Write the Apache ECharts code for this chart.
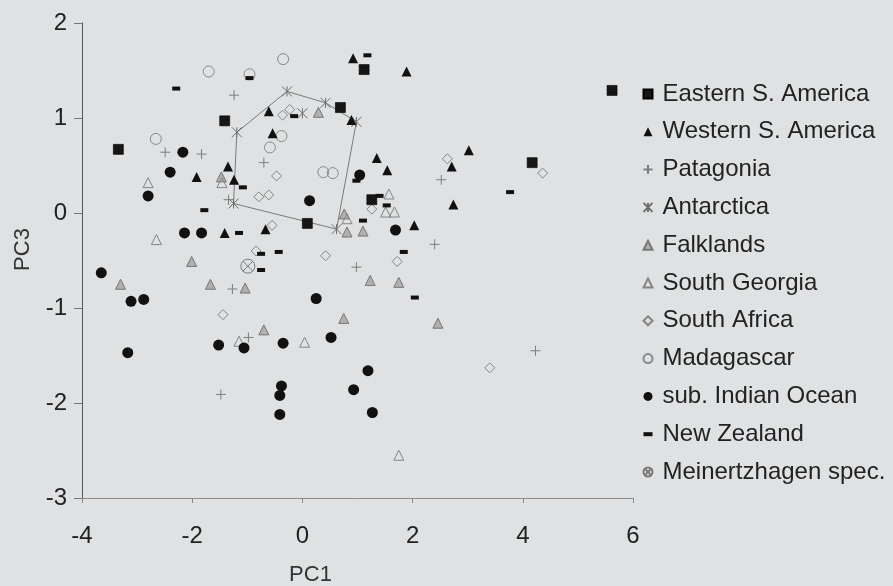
<!DOCTYPE html>
<html>
<head>
<meta charset="utf-8">
<script src="https://cdn.jsdelivr.net/npm/echarts@6/dist/echarts.min.js"></script>
<style>
  html, body { margin: 0; padding: 0; background: #dfe1e2; }
  #chart { width: 893px; height: 586px; }
</style>
</head>
<body>
<div id="chart"></div>
<script>
// PCA scores (PC1, PC3) by region of origin
const easternSAmerica = [[-1.41, 0.97], [-3.34, 0.67], [1.12, 1.51], [0.69, 1.11], [1.26, 0.14], [0.09, -0.11], [4.17, 0.53], [5.62, 1.29]];
const westernSAmerica = [[0.92, 1.63], [1.89, 1.49], [-0.61, 1.07], [0.89, 0.98], [-0.54, 0.84], [-1.35, 0.49], [-1.92, 0.38], [-1.24, 0.35], [1.35, 0.58], [1.54, 0.45], [3.02, 0.66], [2.71, 0.49], [2.74, 0.09], [2.03, -0.13], [-1.41, -0.21], [-0.67, -0.17]];
const patagonia = [[-1.24, 1.24], [-2.49, 0.64], [-1.83, 0.62], [-0.70, 0.53], [-1.34, 0.14], [2.52, 0.35], [2.40, -0.33], [0.98, -0.57], [-1.27, -0.80], [-0.98, -1.31], [4.23, -1.45], [-1.48, -1.91]];
const antarctica = [[-0.28, 1.28], [0.42, 1.16], [0.98, 0.96], [0.62, -0.17], [-1.25, 0.10], [-1.19, 0.85], [0.00, 1.05]];
const falklands = [[0.29, 1.06], [-1.47, 0.38], [0.76, -0.01], [0.81, -0.20], [1.10, -0.19], [-2.01, -0.51], [-3.30, -0.75], [-1.67, -0.75], [-1.04, -0.79], [1.23, -0.71], [1.75, -0.73], [0.75, -1.11], [2.46, -1.16], [-0.70, -1.23]];
const southGeorgia = [[-2.80, 0.32], [-1.46, 0.32], [1.57, 0.20], [1.51, 0.01], [1.67, 0.01], [0.81, -0.06], [-2.65, -0.28], [-1.15, -1.35], [0.04, -1.36], [1.75, -2.55]];
const southAfrica = [[-0.23, 1.09], [-0.36, 1.03], [-0.47, 0.39], [-0.79, 0.17], [-0.61, 0.19], [-0.55, -0.13], [-0.84, -0.40], [1.26, 0.04], [2.63, 0.57], [4.36, 0.42], [0.42, -0.45], [1.72, -0.51], [-1.44, -1.07], [3.40, -1.63]];
const madagascar = [[-0.35, 1.62], [-1.70, 1.49], [-0.96, 1.46], [-0.38, 0.81], [-0.59, 0.69], [-2.66, 0.78], [0.38, 0.43], [0.55, 0.42]];
const subIndianOcean = [[-2.17, 0.64], [-2.40, 0.43], [-2.80, 0.18], [1.04, 0.40], [0.13, 0.13], [1.69, -0.18], [-2.14, -0.21], [-1.83, -0.21], [-3.65, -0.63], [-3.11, -0.93], [-2.88, -0.91], [0.25, -0.90], [-3.17, -1.47], [-1.52, -1.39], [-1.06, -1.42], [-0.35, -1.37], [0.52, -1.31], [1.19, -1.66], [-0.38, -1.82], [-0.41, -1.92], [-0.41, -2.12], [0.93, -1.86], [1.27, -2.10]];
const newZealand = [[-2.29, 1.31], [-0.96, 1.42], [-0.15, 1.02], [1.18, 1.66], [-1.08, 0.27], [0.98, 0.34], [1.40, 0.18], [1.53, 0.08], [1.10, -0.08], [3.77, 0.22], [-1.78, 0.03], [-1.15, -0.21], [-0.75, -0.43], [-0.43, -0.41], [-0.75, -0.60], [1.84, -0.41], [2.04, -0.89]];
const meinertzhagen = [[-0.99, -0.56]];

// Outline of the Antarctic samples (indices into antarctica, closed)
const antarcticaHull = [0, 1, 2, 3, 4, 5, 0];

const xTicks = { min: -4, max: 6, step: 2 };
const yTicks = { min: -3, max: 2, step: 1 };

const FONT = '"Liberation Sans", Arial, sans-serif';
const GREY = '#7d7d7d';

const PLUS = 'path://M5,0V10M0,5H10';
const STAR = 'path://M0,0L10,10M10,0L0,10M5,0V10';
const CROSSED = 'path://M10,5A5,5,0,1,1,0,5A5,5,0,1,1,10,5ZM1.46,1.46L8.54,8.54M8.54,1.46L1.46,8.54';
const DASH = 'path://M0,0H10V4.5H0Z';

function scatter(name, data, symbol, size, fill, stroke, lineWidth, z) {
  return {
    name: name,
    type: 'scatter',
    data: data,
    symbol: symbol,
    symbolSize: size,
    z: z || 3,
    itemStyle: {
      color: fill,
      borderColor: stroke || 'none',
      borderWidth: stroke ? lineWidth : 0,
      opacity: 1
    },
    emphasis: { disabled: true }
  };
}

const series = [
  {
    name: 'hull',
    type: 'line',
    data: antarcticaHull.map(i => antarctica[i]),
    symbol: 'none',
    z: 1,
    lineStyle: { color: '#7a7a7a', width: 1 },
    emphasis: { disabled: true },
    silent: true
  },
  scatter('Eastern S. America', easternSAmerica, 'rect', 10, '#161616', '#000', 0.6, 5),
  scatter('Western S. America', westernSAmerica, 'triangle', [10, 10], '#111', null, 0, 5),
  scatter('Patagonia', patagonia, PLUS, 10, 'none', GREY, 1, 3),
  scatter('Antarctica', antarctica, STAR, 10, 'none', '#6e6e6e', 1, 3),
  scatter('Falklands', falklands, 'triangle', [10, 10], '#b0b0b0', '#777', 1, 3),
  scatter('South Georgia', southGeorgia, 'triangle', [10, 10], 'none', '#858585', 1, 3),
  scatter('South Africa', southAfrica, 'diamond', [10, 10], 'none', '#858585', 1, 3),
  scatter('Madagascar', madagascar, 'circle', 11, 'none', '#8a8a8a', 1, 3),
  scatter('sub. Indian Ocean', subIndianOcean, 'circle', 11, '#111', null, 0, 4),
  scatter('New Zealand', newZealand, DASH, [8, 4], '#111', null, 0, 5),
  scatter('Meinertzhagen spec.', meinertzhagen, CROSSED, 14, 'none', '#7a7a7a', 1, 3)
];

const legendNames = series.slice(1).map(s => s.name);

const chart = echarts.init(document.getElementById('chart'), null, { renderer: 'canvas' });
chart.setOption({
  backgroundColor: '#dfe1e2',
  animation: false,
  grid: { left: 82, right: 260, top: 23, bottom: 88, containLabel: false, outerBoundsMode: 'none' },
  xAxis: {
    type: 'value',
    min: xTicks.min, max: xTicks.max, interval: xTicks.step,
    name: 'PC1',
    nameLocation: 'middle',
    nameGap: 66,
    nameTextStyle: { fontFamily: FONT, fontSize: 22, color: '#333', padding: [0, 94, 0, 0] },
    axisLine: { show: true, onZero: false, lineStyle: { color: '#8c8c8c', width: 1 } },
    axisTick: { show: true, inside: false, length: 5, lineStyle: { color: '#888' } },
    axisLabel: { fontFamily: FONT, fontSize: 24, color: '#222', margin: 26 },
    splitLine: { show: false }
  },
  yAxis: {
    type: 'value',
    min: yTicks.min, max: yTicks.max, interval: yTicks.step,
    name: 'PC3',
    nameLocation: 'middle',
    nameGap: 48,
    nameRotate: 90,
    nameTextStyle: { fontFamily: FONT, fontSize: 22, color: '#333', padding: [0, 0, 0, 22] },
    axisLine: { show: true, onZero: false, lineStyle: { color: '#555', width: 1 } },
    axisTick: { show: true, inside: false, length: 8, lineStyle: { color: '#777' } },
    axisLabel: { fontFamily: FONT, fontSize: 24, color: '#222', margin: 15 },
    splitLine: { show: false }
  },
  legend: {
    orient: 'vertical',
    left: 636,
    top: 76,
    itemWidth: 9,
    itemHeight: 9,
    itemGap: 11.8,
    selectedMode: false,
    data: legendNames.map(n => n === 'New Zealand' ? { name: n, icon: 'path://M0,0H10V4.5H0Z' } : n),
    textStyle: { fontFamily: FONT, fontSize: 24, color: '#222', lineHeight: 26, padding: [0, 0, 0, 5] }
  },
  series: series
});
</script>
</body>
</html>
